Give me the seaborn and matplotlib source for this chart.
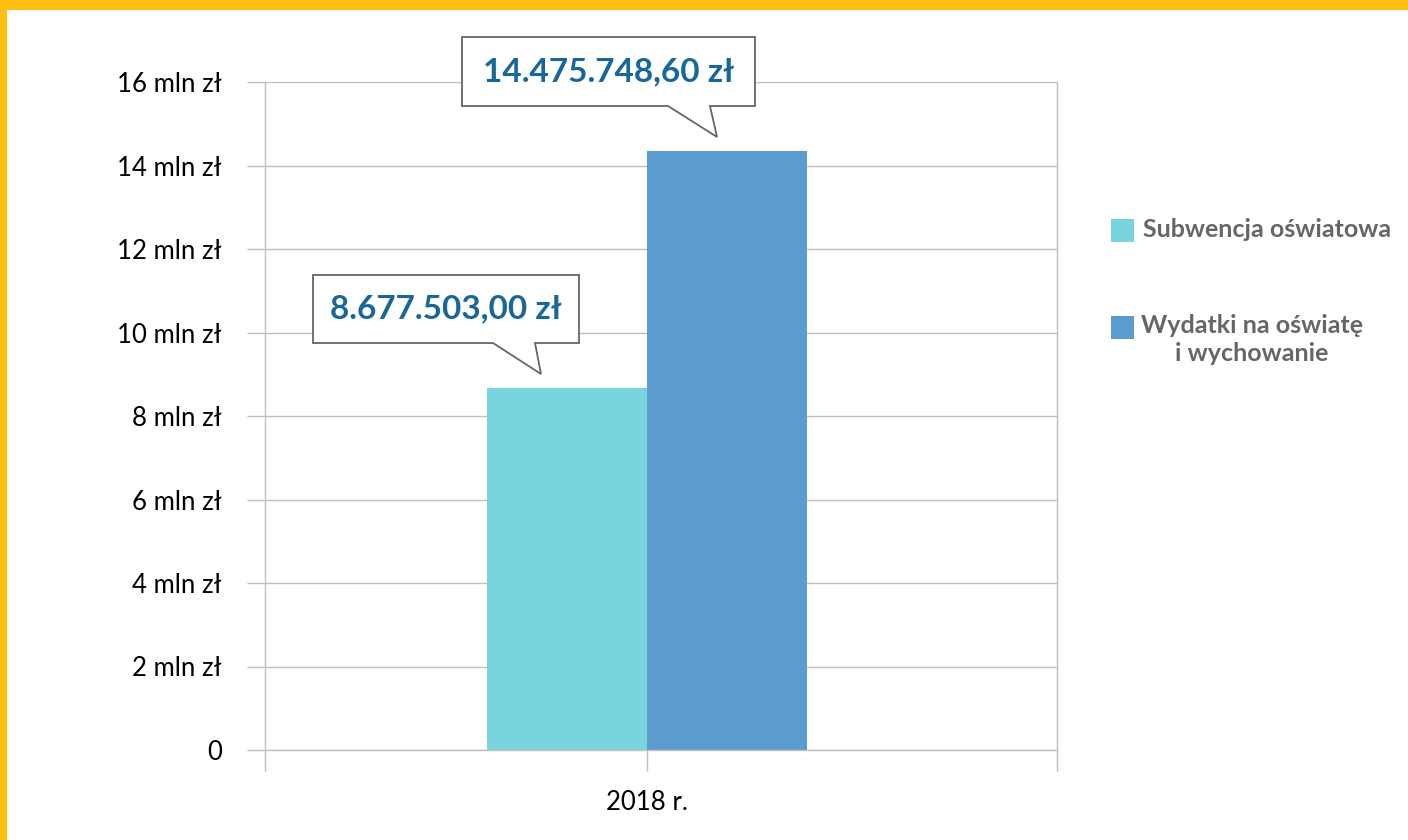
import matplotlib
matplotlib.use("Agg")
import matplotlib.pyplot as plt
from matplotlib.patches import Rectangle, Polygon
from matplotlib.ticker import FuncFormatter
import seaborn as sns
import pandas as pd

# dane
years = ["2018 r."]
series = ["Subwencja oświatowa", "Wydatki na oświatę\ni wychowanie"]
values_mln = [8.677503, 14.35]
value_labels = ["8.677.503,00 zł", "14.475.748,60 zł"]
colors = ["#78D5DD", "#5B9BD0"]

df = pd.DataFrame({"rok": years * len(series), "seria": series, "wartosc": values_mln})

sns.set_theme(style="white")
plt.rcParams["font.family"] = ["Lato", "DejaVu Sans"]

W, H = 1408, 840
fig = plt.figure(figsize=(W / 100, H / 100), dpi=100)
ax = fig.add_axes([265 / W, 1 - 750 / H, (1057 - 265) / W, (750 - 82) / H])

sns.barplot(data=df, x="rok", y="wartosc", hue="seria", palette=colors,
            width=0.8, legend=False, ax=ax, saturation=1, linewidth=0)

ax.set_xlim(-0.955, 1.025)
ax.set_ylim(0, 16)
ax.set_yticks(range(0, 17, 2))
ax.yaxis.set_major_formatter(FuncFormatter(lambda v, p: "0" if v == 0 else f"{int(v)} mln zł"))
ax.grid(axis="y", color="#BFBFBF", linewidth=1)
ax.set_axisbelow(True)
ax.set_xlabel("")
ax.set_ylabel("")
ax.set_xticks([-0.955, 0, 1.025])
ax.set_xticklabels(["", years[0], ""])
for s in ["left", "right", "bottom"]:
    ax.spines[s].set_color("#BFBFBF")
    ax.spines[s].set_linewidth(1)
ax.spines["top"].set_visible(False)
ax.tick_params(axis="y", length=13, color="#BFBFBF", width=1, labelsize=18.5, pad=18, left=True)
ax.tick_params(axis="x", length=15, color="#BFBFBF", width=1, labelsize=18.5, pad=14, bottom=True)
for lab in ax.get_yticklabels() + ax.get_xticklabels():
    lab.set_color("black")


def px(x, y):
    return (x / W, 1 - y / H)


# objasnienia (dymki)
callouts = [
    (313, 275, 579, 343, [(493, 343), (541, 374), (535, 343)]),
    (462, 37, 755, 106, [(668, 106), (717, 137), (710, 106)]),
]
for (x0, y0, x1, y1, ptr), txt in zip(callouts, value_labels):
    pts = [(x0, y0), (x1, y0), (x1, y1), ptr[2], ptr[1], ptr[0], (x0, y1)]
    fig.add_artist(Polygon([px(*p) for p in pts], closed=True, transform=fig.transFigure,
                           facecolor="white", edgecolor="#666666", linewidth=1.3, zorder=5))
    cx, cy = px((x0 + x1) / 2, (y0 + y1) / 2)
    fig.text(cx, cy, txt, ha="center", va="center", fontsize=24, fontweight="bold",
             color="#17679A", zorder=6)

# legenda
legend_pos = [(1111, 219, 1143, 231), (1111, 316, 1141, 327)]
for (rx, ry, tx, ty), name, c in zip(legend_pos, series, colors):
    fig.add_artist(Rectangle(px(rx, ry + 23), 23 / W, 23 / H, transform=fig.transFigure,
                             facecolor=c, edgecolor="none"))
    fig.text(tx / W, 1 - (ty - 13) / H, name, ha="left", va="top", fontsize=18,
             fontweight="bold", color="#666666", multialignment="center", linespacing=1.25)

# zolta ramka
fig.add_artist(Rectangle((0, 1 - 10 / H), 1, 10 / H, transform=fig.transFigure,
                         facecolor="#FDBE10", edgecolor="none"))
fig.add_artist(Rectangle((0, 0), 7 / W, 1, transform=fig.transFigure,
                         facecolor="#FDBE10", edgecolor="none"))

fig.savefig("out.png", dpi=100)
